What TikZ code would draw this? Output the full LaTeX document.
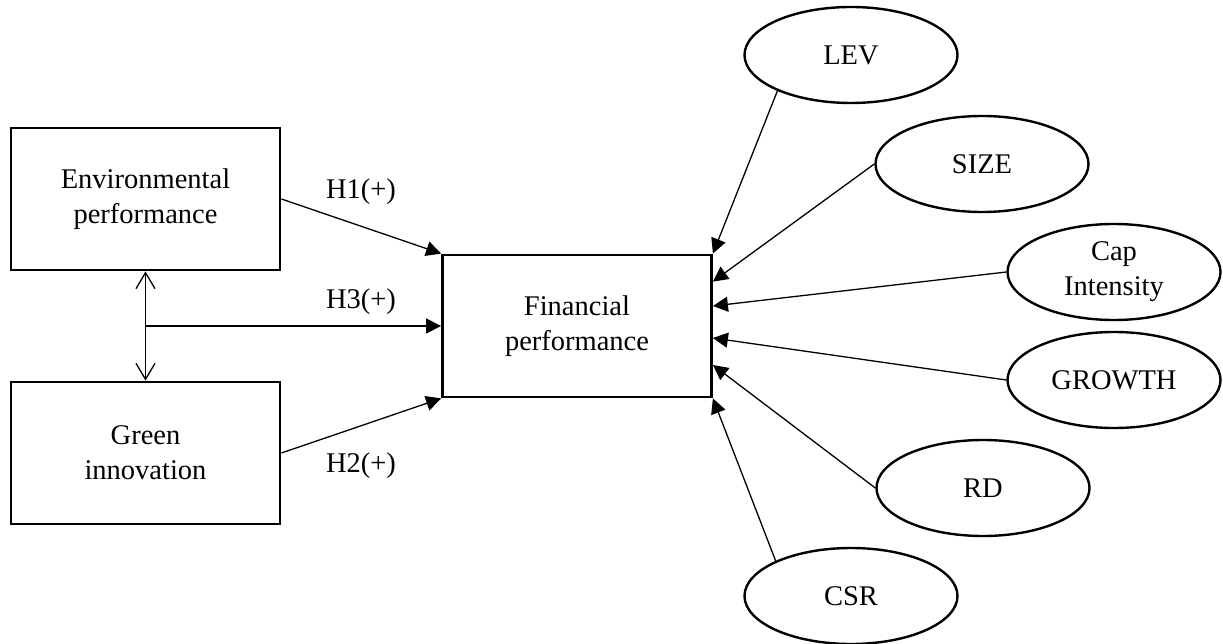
\documentclass[tikz,border=0pt]{standalone}
\usepackage{fontspec}
\setmainfont{Liberation Serif}
\usetikzlibrary{shapes.geometric,arrows.meta}
\begin{document}
\begin{tikzpicture}[x=1pt,y=-1pt,
  txt/.style={font=\fontsize{28.5}{35}\selectfont},
  box/.style={txt,draw,line width=2.8pt,minimum width=269pt,minimum height=142pt,inner sep=0pt,align=center},
  oval/.style={txt,draw,ellipse,line width=2.4pt,minimum width=213pt,minimum height=96pt,inner sep=0pt,align=center},
  conn/.style={line width=1.3pt,-{Triangle[length=15pt,width=15pt]}},
  twoway/.style={line width=1.3pt,{Straight Barb[length=16pt,width=19pt,line width=1.3pt]}-{Straight Barb[length=16pt,width=19pt,line width=1.3pt]}}
  ]
\useasboundingbox (0,0) rectangle (1223,644);
% boxes
\node[box] (env) at (145.5,199) {Environmental\\performance};
\node[box] (green) at (145.5,453) {Green\\innovation};
\node[box] (fin) at (577,326) {Financial\\performance};
% ellipses
\node[oval] (lev) at (851,55) {LEV};
\node[oval] (size) at (982,164) {SIZE};
\node[oval] (cap) at (1114,272) {Cap\\Intensity};
\node[oval] (growth) at (1114,380) {GROWTH};
\node[oval] (rd) at (983,488) {RD};
\node[oval] (csr) at (851,596) {CSR};
% labels
\node[txt] (h1) at (361,192) {H1(+)};
\node[txt] (h3) at (361,302) {H3(+)};
\node[txt] (h2) at (361,466) {H2(+)};
% connectors
\draw[twoway] (env.south) -- (green.north);
\coordinate (mid) at (env.south |- fin.west);
\draw[conn] (mid) -- (fin.west);
\draw[conn] (env.east) -- (fin.north west);
\draw[conn] (green.east) -- (fin.south west);
\draw[conn] (lev.206) -- (fin.north east);
\draw[conn] (size.west) -- ([yshift=-28pt]fin.north east);
\draw[conn] (cap.west) -- ([yshift=20pt]fin.east);
\draw[conn] (growth.west) -- ([yshift=-12pt]fin.east);
\draw[conn] (rd.west) -- ([yshift=-39pt]fin.east);
\draw[conn] (csr.155) -- (fin.south east);
\end{tikzpicture}
\end{document}
